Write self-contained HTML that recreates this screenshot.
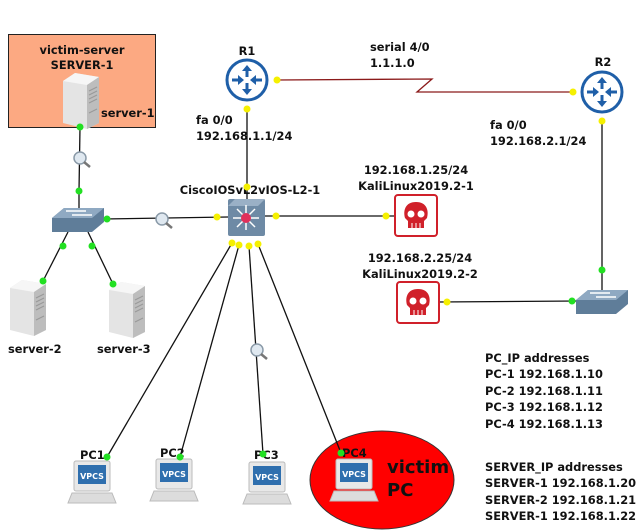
<!DOCTYPE html>
<html><head><meta charset="utf-8"><style>
html,body{margin:0;padding:0;background:#fff}
svg{display:block}
text{font-family:"DejaVu Sans","Liberation Sans",sans-serif;font-weight:bold;font-size:11.4px;fill:#111}
</style></head><body>
<svg width="640" height="530" viewBox="0 0 640 530" xmlns="http://www.w3.org/2000/svg">
<defs>
<g id="srv">
  <path d="M0 8 L12 0 L36 4 L36 50 L24 56 L0 50 Z" fill="#e4e4e4"/>
  <path d="M0 8 L12 0 L36 4 L24 12 Z" fill="#f6f6f6"/>
  <path d="M24 12 L36 4 L36 50 L24 56 Z" fill="#bdbdbd"/>
  <g stroke="#999" stroke-width="1"><line x1="26" y1="18" x2="34" y2="14"/><line x1="26" y1="22" x2="34" y2="18"/><line x1="26" y1="26" x2="34" y2="22"/><line x1="26" y1="30" x2="34" y2="26"/><line x1="26" y1="40" x2="34" y2="36"/></g>
</g>
<g id="sw">
  <path d="M0 10 L12 0 L52 0 L52 14 L40 24 L0 24 Z" fill="#5f7d99"/>
  <path d="M0 10 L12 0 L52 0 L40 10 Z" fill="#8fa9c2"/>
  <g stroke="#fff" stroke-width="1.5"><line x1="14" y1="3" x2="34" y2="3"/><line x1="20" y1="7" x2="40" y2="7"/></g>
</g>
<g id="pc">
  <rect x="6" y="0" width="36" height="30" rx="2" fill="#e8e8e8" stroke="#bbb"/>
  <rect x="10" y="4" width="28" height="19" fill="#2f6fae"/>
  <text x="24" y="18" text-anchor="middle" style="font-size:8px;fill:#fff">VPCS</text>
  <path d="M4 32 L44 32 L48 42 L0 42 Z" fill="#dcdcdc" stroke="#bbb"/>
</g>
<g id="router">
  <circle r="20" fill="#fff" stroke="#1f5fa8" stroke-width="3"/>
  <g fill="#1f5fa8"><path d="M0 -15 L5 -9 L1.5 -9 L1.5 -3 L-1.5 -3 L-1.5 -9 L-5 -9Z"/><path d="M0 15 L5 9 L1.5 9 L1.5 3 L-1.5 3 L-1.5 9 L-5 9Z"/><path d="M-3 0 L-9 -5 L-9 -1.5 L-15 -1.5 L-15 1.5 L-9 1.5 L-9 5Z"/><path d="M3 0 L9 -5 L9 -1.5 L15 -1.5 L15 1.5 L9 1.5 L9 5Z"/></g>
</g>
<g id="kali">
  <rect x="0" y="0" width="42" height="41" rx="3" fill="#fff" stroke="#d0202a" stroke-width="2"/>
  <path d="M21 7 C10 7 8 16 10 23 L13 26 L13 33 L29 33 L29 26 L32 23 C34 16 32 7 21 7Z" fill="#d0202a"/>
  <circle cx="16" cy="19" r="3.5" fill="#fff"/><circle cx="26" cy="19" r="3.5" fill="#fff"/>
  <g stroke="#fff" stroke-width="1"><line x1="17" y1="28" x2="17" y2="33"/><line x1="21" y1="28" x2="21" y2="33"/><line x1="25" y1="28" x2="25" y2="33"/></g>
</g>
<g id="mag">
  <circle r="6" fill="#dfe8f0" stroke="#8a9aa8" stroke-width="1.5"/>
  <line x1="4" y1="4" x2="10" y2="9" stroke="#777" stroke-width="2.5"/>
</g>
</defs>

<rect x="8.5" y="34.5" width="147" height="93" fill="#fca982" stroke="#222" stroke-width="1"/>
<text x="82" y="54" text-anchor="middle">victim-server</text>
<text x="82" y="69" text-anchor="middle">SERVER-1</text>
<use href="#srv" x="63" y="73"/>
<text x="101" y="117">server-1</text>

<ellipse cx="382" cy="480" rx="72" ry="49" fill="#f00" stroke="#333" stroke-width="1"/>

<g stroke="#111" stroke-width="1.3" fill="none">
  <line x1="80" y1="127" x2="79" y2="191"/>
  <line x1="79" y1="191" x2="79" y2="208"/>
  <line x1="103" y1="219" x2="228" y2="217"/>
  <line x1="68" y1="232" x2="43" y2="281"/>
  <line x1="88" y1="232" x2="113" y2="284"/>
  <line x1="247" y1="109" x2="247" y2="199"/>
  <line x1="265" y1="216" x2="394" y2="216"/>
  <line x1="232" y1="243" x2="107" y2="457"/>
  <line x1="239" y1="245" x2="180" y2="457"/>
  <line x1="249" y1="246" x2="263" y2="454"/>
  <line x1="258" y1="244" x2="341" y2="453"/>
  <line x1="602" y1="121" x2="602" y2="290"/>
  <line x1="438" y1="302" x2="578" y2="301"/>
</g>
<polyline points="277,80 432,79 417,92 573,92" fill="none" stroke="#8b1a1a" stroke-width="1.3"/>

<use href="#sw" x="52" y="208"/>
<use href="#srv" x="10" y="280"/>
<use href="#srv" x="109" y="282"/>
<text x="8" y="353">server-2</text>
<text x="97" y="353">server-3</text>

<rect x="228" y="199" width="37" height="37" rx="2" fill="#6e8aa5"/>
<path d="M228 206 L235 199 L265 199 L258 206Z" fill="#9ab0c6"/>
<g stroke="#fff" stroke-width="1.5"><line x1="246" y1="205" x2="246" y2="230"/><line x1="233" y1="218" x2="259" y2="218"/><line x1="237" y1="209" x2="255" y2="227"/><line x1="255" y1="209" x2="237" y2="227"/></g>
<circle cx="246" cy="218" r="5" fill="#e0305a"/>
<text x="250" y="194" text-anchor="middle">CiscoIOSvL2vIOS-L2-1</text>

<use href="#router" x="247" y="80"/>
<use href="#router" x="602" y="92"/>
<text x="247" y="55" text-anchor="middle">R1</text>
<text x="603" y="66" text-anchor="middle">R2</text>
<text x="196" y="124">fa 0/0</text>
<text x="196" y="140">192.168.1.1/24</text>
<text x="370" y="51">serial 4/0</text>
<text x="370" y="67">1.1.1.0</text>
<text x="490" y="129">fa 0/0</text>
<text x="490" y="145">192.168.2.1/24</text>

<use href="#kali" x="395" y="195"/>
<use href="#kali" x="397" y="282"/>
<text x="416" y="174" text-anchor="middle">192.168.1.25/24</text>
<text x="416" y="190" text-anchor="middle">KaliLinux2019.2-1</text>
<text x="420" y="262" text-anchor="middle">192.168.2.25/24</text>
<text x="420" y="278" text-anchor="middle">KaliLinux2019.2-2</text>

<use href="#sw" x="576" y="290"/>

<use href="#pc" x="68" y="461"/>
<use href="#pc" x="150" y="459"/>
<use href="#pc" x="243" y="462"/>
<use href="#pc" x="330" y="459"/>
<text x="80" y="459">PC1</text>
<text x="160" y="457">PC2</text>
<text x="254" y="459">PC3</text>
<text x="342" y="457">PC4</text>
<text x="387" y="473" style="font-size:18px">victim</text>
<text x="387" y="496" style="font-size:18px">PC</text>

<use href="#mag" x="80" y="158"/>
<use href="#mag" x="162" y="219"/>
<use href="#mag" x="257" y="350"/>

<g fill="#22e022">
  <circle cx="80" cy="127" r="3.5"/><circle cx="79" cy="191" r="3.5"/><circle cx="107" cy="219" r="3.5"/>
  <circle cx="63" cy="246" r="3.5"/><circle cx="92" cy="246" r="3.5"/><circle cx="43" cy="281" r="3.5"/><circle cx="113" cy="284" r="3.5"/>
  <circle cx="602" cy="270" r="3.5"/><circle cx="572" cy="301" r="3.5"/>
  <circle cx="107" cy="457" r="3.5"/><circle cx="180" cy="457" r="3.5"/><circle cx="263" cy="454" r="3.5"/><circle cx="341" cy="453" r="3.5"/>
</g>
<g fill="#f5f000">
  <circle cx="277" cy="80" r="3.5"/><circle cx="247" cy="109" r="3.5"/><circle cx="573" cy="92" r="3.5"/><circle cx="602" cy="121" r="3.5"/>
  <circle cx="247" cy="187" r="3.5"/><circle cx="217" cy="217" r="3.5"/><circle cx="276" cy="216" r="3.5"/>
  <circle cx="232" cy="243" r="3.5"/><circle cx="239" cy="245" r="3.5"/><circle cx="249" cy="246" r="3.5"/><circle cx="258" cy="244" r="3.5"/>
  <circle cx="386" cy="216" r="3.5"/><circle cx="447" cy="302" r="3.5"/>
</g>

<text x="485" y="362">PC_IP addresses</text>
<text x="485" y="378">PC-1 192.168.1.10</text>
<text x="485" y="395">PC-2 192.168.1.11</text>
<text x="485" y="411">PC-3 192.168.1.12</text>
<text x="485" y="428">PC-4 192.168.1.13</text>
<text x="485" y="471">SERVER_IP addresses</text>
<text x="485" y="487">SERVER-1 192.168.1.20</text>
<text x="485" y="504">SERVER-2 192.168.1.21</text>
<text x="485" y="520">SERVER-1 192.168.1.22</text>
</svg>
</body></html>
